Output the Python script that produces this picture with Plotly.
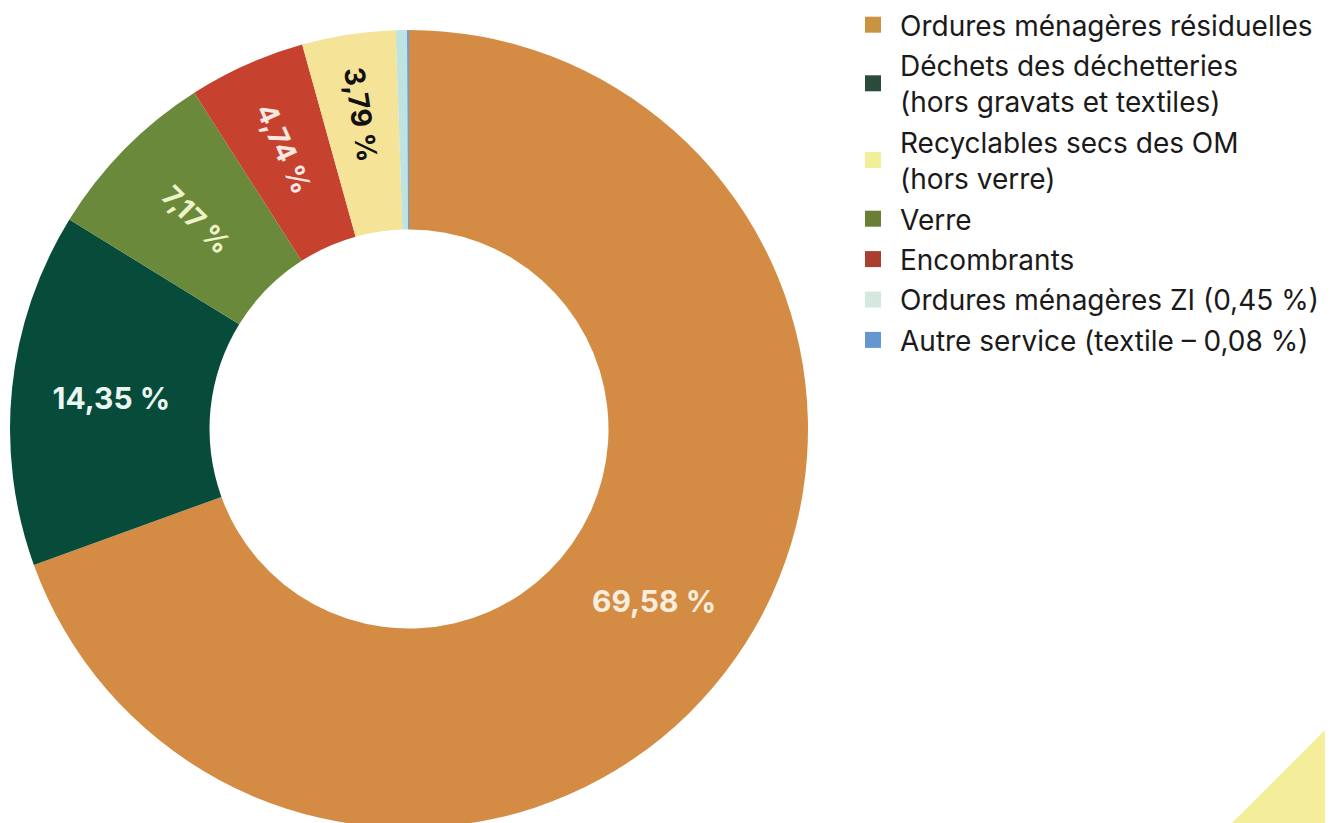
import plotly.graph_objects as go

# Data (clockwise order in the ring)
labels = ["Ordures ménagères résiduelles", "Déchets des déchetteries (hors gravats et textiles)",
          "Verre", "Encombrants", "Recyclables secs des OM (hors verre)",
          "Ordures ménagères ZI", "Autre service (textile)"]
values = [69.58, 14.35, 7.17, 4.74, 3.79, 0.45, 0.08]
value_text = ["69,58 %", "14,35 %", "7,17 %", "4,74 %", "3,79 %", "", ""]
slice_colors = ["#D48C45", "#074B3B", "#6B893A", "#C7412F", "#F5E397", "#BFE3E0", "#6A9BD4"]
text_colors = ["#F8EEDD", "#EAF6F1", "#EEF3C8", "#F8E8E2", "#111111", "#111111", "#111111"]
horizontal_labels = [True, True, False, False, False, False, False]

# Legend order / texts
legend_names = ["Ordures ménagères résiduelles",
                "Déchets des déchetteries<br>(hors gravats et textiles)",
                "Recyclables secs des OM<br>(hors verre)",
                "Verre",
                "Encombrants",
                "Ordures ménagères ZI (0,45 %)",
                "Autre service (textile – 0,08 %)"]
legend_colors = ["#C89442", "#2A4A3C", "#F3EE98", "#6A7F33", "#A9402F", "#D5E8DD", "#6497D0"]

W, H = 1333, 823
dom_x = [2 / W, 800 / W]
dom_y = [3 / H, 801 / H]

fig = go.Figure()

fig.add_trace(go.Pie(
    labels=labels, values=values, sort=False, direction="clockwise", rotation=0,
    hole=0.5, domain=dict(x=dom_x, y=dom_y),
    marker=dict(colors=slice_colors, line=dict(width=0)),
    text=[t if h else "" for t, h in zip(value_text, horizontal_labels)],
    textinfo="text", texttemplate="%{text}", textposition="inside",
    insidetextorientation="horizontal",
    textfont=dict(family="Inter, Lato, sans-serif", size=30, color=text_colors, weight="bold"),
    showlegend=False, hoverinfo="label+percent",
))

fig.add_trace(go.Pie(
    labels=labels, values=values, sort=False, direction="clockwise", rotation=0,
    hole=0.5, domain=dict(x=dom_x, y=dom_y),
    marker=dict(colors=["rgba(0,0,0,0)"] * len(values), line=dict(width=0)),
    text=["" if h else t for t, h in zip(value_text, horizontal_labels)],
    textinfo="text", texttemplate="%{text}", textposition="inside",
    insidetextorientation="radial",
    textfont=dict(family="Inter, Lato, sans-serif", size=28, color=text_colors, weight="bold"),
    showlegend=False, hoverinfo="skip",
))

for i, (name, col) in enumerate(zip(legend_names, legend_colors)):
    fig.add_trace(go.Scatter(
        x=[None], y=[None], mode="markers", name=name, legendgroup=f"g{i}",
        marker=dict(symbol="square", size=17, color=col),
    ))

fig.add_shape(type="path", xref="paper", yref="paper",
              path=f"M 1 {117 / H} L 1 0 L {1216 / W} 0 Z",
              fillcolor="#F4EE9A", line=dict(width=0), layer="below")

fig.update_layout(
    width=W, height=H,
    margin=dict(l=0, r=0, t=0, b=0, autoexpand=False),
    paper_bgcolor="white", plot_bgcolor="white",
    xaxis=dict(visible=False), yaxis=dict(visible=False),
    legend=dict(x=838 / W, y=1 + 8 / H, xanchor="left", yanchor="top",
                font=dict(family="Inter, Lato, sans-serif", size=28, color="#1a1a1a"),
                tracegroupgap=1, itemwidth=44, bgcolor="rgba(0,0,0,0)"),
)

fig.write_html("out.html")
